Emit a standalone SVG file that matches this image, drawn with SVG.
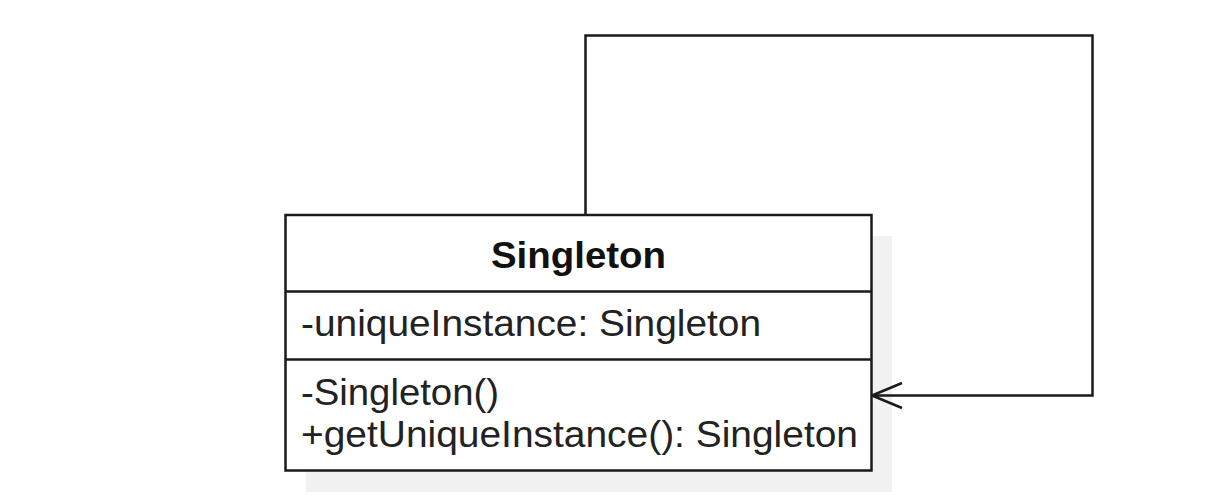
<svg xmlns="http://www.w3.org/2000/svg" width="1210" height="500" viewBox="0 0 1210 500">
  <style>
    .box { fill: #ffffff; stroke: #1a1a1a; stroke-width: 2.5; }
    .shadow { fill: #f1f1f1; stroke: none; }
    .div { stroke: #1a1a1a; stroke-width: 2.5; }
    .edge { fill: none; stroke: #1a1a1a; stroke-width: 2.5; }
    .t { font-family: "Liberation Sans", Arial, sans-serif; font-size: 36px; fill: #222222; }
    .title { font-family: "Liberation Sans", Arial, sans-serif; font-size: 36px; font-weight: bold; fill: #111111; }
  </style>
  <defs>
    <marker id="openArrow" markerUnits="userSpaceOnUse" markerWidth="40" markerHeight="40" refX="39" refY="13" orient="auto" viewBox="0 0 40 26">
      <path d="M9,0.5 L39,13 L9,25.5" fill="none" stroke="#1a1a1a" stroke-width="2.5"/>
    </marker>
  </defs>
  <rect width="1210" height="500" fill="#ffffff"/>
  <g id="singleton">
    <rect class="shadow" x="306" y="236" width="586" height="256"/>
    <rect class="box" x="285.5" y="215" width="586" height="255.5"/>
    <line class="div" x1="285.5" y1="291.5" x2="871.5" y2="291.5"/>
    <line class="div" x1="285.5" y1="359.5" x2="871.5" y2="359.5"/>
    <text class="title" x="491" y="268" textLength="175" lengthAdjust="spacingAndGlyphs">Singleton</text>
    <text class="t" x="301" y="336" textLength="460" lengthAdjust="spacingAndGlyphs">-uniqueInstance: Singleton</text>
    <text class="t" x="301" y="405" textLength="198" lengthAdjust="spacingAndGlyphs">-Singleton()</text>
    <text class="t" x="301" y="447" textLength="557" lengthAdjust="spacingAndGlyphs">+getUniqueInstance(): Singleton</text>
  </g>
  <g id="connectors">
    <path class="edge" d="M585.5,215 L585.5,35.5 L1092.5,35.5 L1092.5,395.5 L872,395.5" marker-end="url(#openArrow)"/>
  </g>
</svg>
